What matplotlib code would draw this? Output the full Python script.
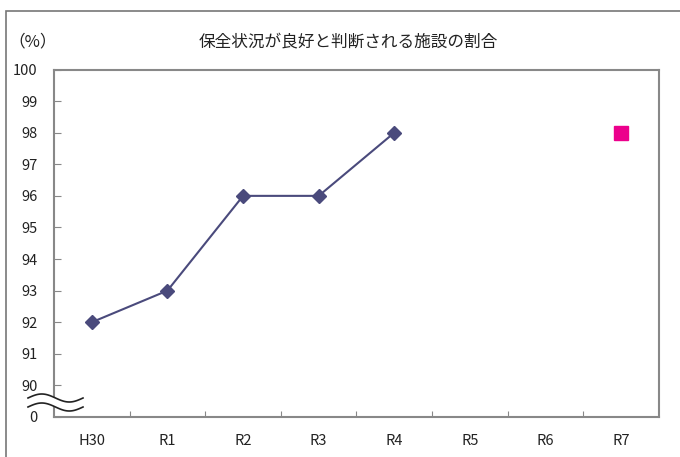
import matplotlib.pyplot as plt
from matplotlib.patches import Rectangle, Polygon
import numpy as np

plt.rcParams['font.family'] = ['Noto Sans CJK JP', 'DejaVu Sans']

# data
years = ['H30', 'R1', 'R2', 'R3', 'R4', 'R5', 'R6', 'R7']
actual = [92, 93, 96, 96, 98]
target_year = 'R7'
target_value = 98

# axis break: bottom of the axis stands for 0
axis_floor = 89
yticks = list(range(89, 101))
ytick_labels = ['0'] + [str(v) for v in range(90, 101)]

W, H = 680, 457
fig = plt.figure(figsize=(6.8, 4.57), dpi=100)
ax = fig.add_axes([54 / W, 1 - 417 / H, 605 / W, (417 - 69.5) / H])

x = np.arange(len(years))
ax.plot(x[:len(actual)], actual, color='#4a4a7c', lw=1.5, marker='D',
        markersize=7.5, markerfacecolor='#4a4a7c', markeredgecolor='#4a4a7c')
ax.plot(years.index(target_year), target_value, marker='s', markersize=10,
        color='#ec008c', linestyle='none')

ax.set_xlim(-0.5, len(years) - 0.5)
ax.set_ylim(axis_floor, 100)
ax.set_xticks(np.arange(0.5, len(years) - 0.5), minor=False)
ax.set_xticks(x, minor=True)
ax.set_xticklabels([])
ax.set_xticklabels(years, minor=True)
ax.tick_params(axis='x', which='major', direction='in', length=4, color='#888888')
ax.tick_params(axis='x', which='minor', length=0, pad=12, labelsize=10.5, labelcolor='#222222')
ax.set_yticks(yticks)
ax.set_yticklabels(ytick_labels)
ax.tick_params(axis='y', direction='in', length=5, color='#888888', pad=12,
               labelsize=10.5, labelcolor='#222222')
for s in ax.spines.values():
    s.set_color('#888888')
    s.set_linewidth(1.5)

# wavy break mark on the y axis
t = np.linspace(28, 83, 60)
wave = lambda x0, y0: y0 - 4 * np.sin((x0 - 28) / 55 * 2 * np.pi)
to_fig = lambda px, py: (px / W, 1 - py / H)
top_y = 398
bot_y = 407
xs_top = [to_fig(px, wave(px, top_y)) for px in t]
xs_bot = [to_fig(px, wave(px, bot_y)) for px in t]
fig.patches.append(Polygon(xs_top + xs_bot[::-1], closed=True, transform=fig.transFigure,
                           facecolor='white', edgecolor='none', zorder=5))
for pts in (xs_top, xs_bot):
    pts = np.array(pts)
    fig.add_artist(plt.Line2D(pts[:, 0], pts[:, 1], transform=fig.transFigure,
                              color='#222222', lw=1.2, zorder=6))

# outer frame
fig.patches.append(Rectangle((6 / W, -0.1), 1.0, 1 - 11 / H + 0.1, transform=fig.transFigure,
                             facecolor='none', edgecolor='#777777', lw=1.2))

fig.text(348 / W, 1 - 42 / H, '保全状況が良好と判断される施設の割合', ha='center', va='center',
         fontsize=12, color='#222222')
fig.text(33 / W, 1 - 42 / H, '（%）', ha='center', va='center', fontsize=12, color='#222222')

fig.savefig('out.png', dpi=100)
